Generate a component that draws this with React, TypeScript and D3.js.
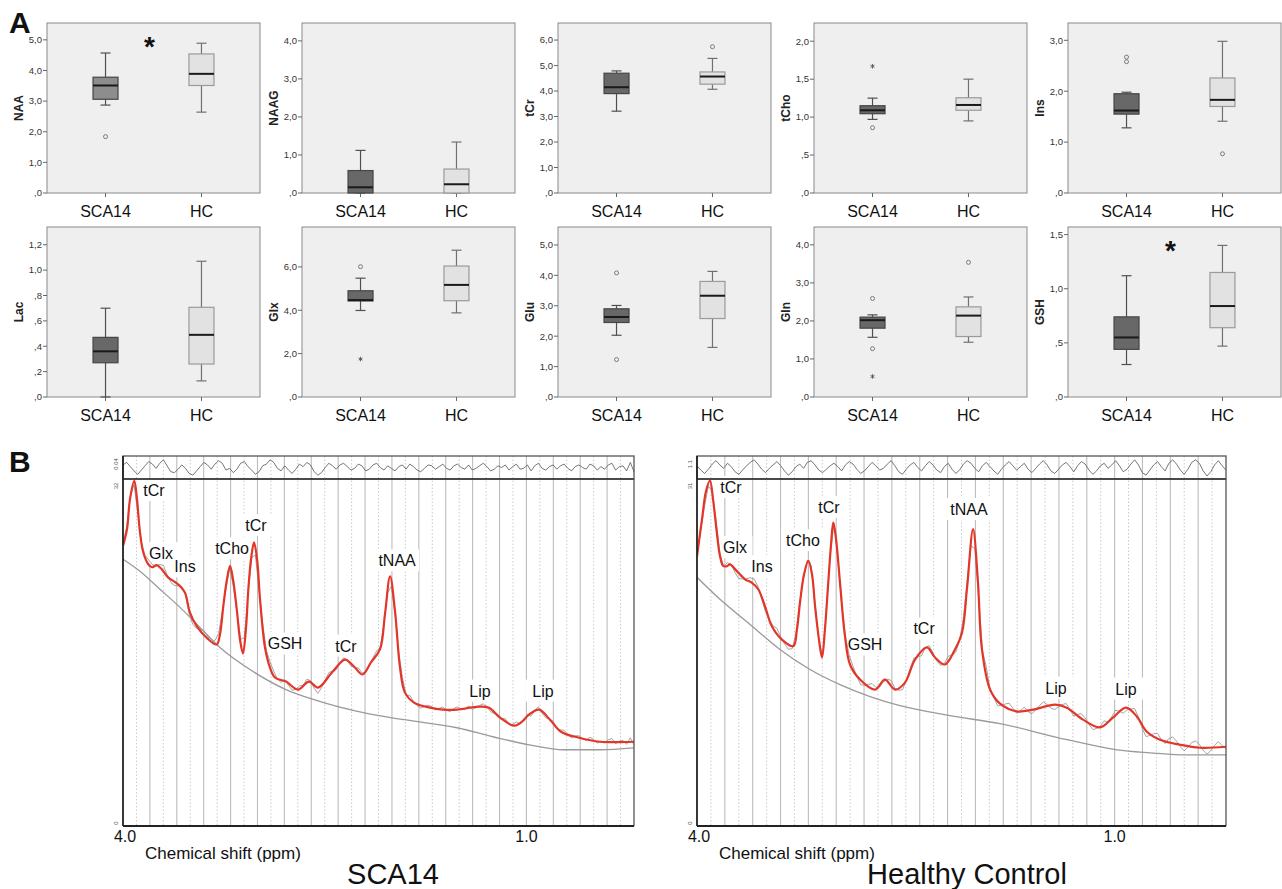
import React from 'react';
import * as d3 from 'd3';

// ---------------- Panel A data ----------------
const groups = ['SCA14', 'HC'];

// Box statistics: [lower whisker, Q1, median, Q3, upper whisker]
const naaSCA14 = [2.87, 3.06, 3.51, 3.78, 4.57];
const naaHC = [2.64, 3.51, 3.89, 4.54, 4.89];
const naaOutSCA14 = [1.84];
const naagSCA14 = [0, 0, 0.15, 0.59, 1.12];
const naagHC = [0, 0, 0.23, 0.63, 1.34];
const tcrSCA14 = [3.21, 3.9, 4.15, 4.7, 4.79];
const tcrHC = [4.07, 4.27, 4.57, 4.75, 5.28];
const tcrOutHC = [5.74];
const tchoSCA14 = [0.97, 1.045, 1.09, 1.15, 1.25];
const tchoHC = [0.95, 1.09, 1.16, 1.255, 1.5];
const tchoOutSCA14 = [0.86];
const tchoExtSCA14 = [1.67];
const insSCA14 = [1.28, 1.55, 1.62, 1.95, 1.98];
const insHC = [1.41, 1.7, 1.83, 2.26, 2.98];
const insOutSCA14 = [2.58, 2.67];
const insOutHC = [0.77];
const lacSCA14 = [0, 0.27, 0.36, 0.47, 0.7];
const lacHC = [0.127, 0.26, 0.49, 0.707, 1.07];
const glxSCA14 = [3.99, 4.43, 4.47, 4.9, 5.48];
const glxHC = [3.88, 4.44, 5.17, 6.04, 6.77];
const glxOutSCA14 = [6.01];
const glxExtSCA14 = [1.75];
const gluSCA14 = [2.03, 2.45, 2.63, 2.9, 3.01];
const gluHC = [1.63, 2.58, 3.33, 3.8, 4.13];
const gluOutSCA14 = [4.08, 1.23];
const glnSCA14 = [1.57, 1.81, 2.02, 2.1, 2.16];
const glnHC = [1.44, 1.59, 2.14, 2.37, 2.63];
const glnOutSCA14 = [2.59, 1.27];
const glnExtSCA14 = [0.54];
const glnOutHC = [3.54];
const gshSCA14 = [0.3, 0.44, 0.55, 0.74, 1.12];
const gshHC = [0.47, 0.64, 0.84, 1.15, 1.4];

// y-axis ticks
const ticksNAA = [0, 1, 2, 3, 4, 5];
const ticksNAAG = [0, 1, 2, 3, 4];
const ticksTCr = [0, 1, 2, 3, 4, 5, 6];
const ticksTCho = [0, 0.5, 1, 1.5, 2];
const ticksIns = [0, 1, 2, 3];
const ticksLac = [0, 0.2, 0.4, 0.6, 0.8, 1.0, 1.2];
const ticksGlx = [0, 2, 4, 6];
const ticksGlu = [0, 1, 2, 3, 4, 5];
const ticksGln = [0, 1, 2, 3, 4];
const ticksGSH = [0, 0.5, 1, 1.5];

const boxPanels = [
  { name: 'NAA', max: 5.55, ticks: ticksNAA, stats: [naaSCA14, naaHC], out: [naaOutSCA14, []], ext: [[], []], sig: true, darkFill: '#8d8d8d' },
  { name: 'NAAG', max: 4.47, ticks: ticksNAAG, stats: [naagSCA14, naagHC], out: [[], []], ext: [[], []], sig: false },
  { name: 'tCr', max: 6.67, ticks: ticksTCr, stats: [tcrSCA14, tcrHC], out: [[], tcrOutHC], ext: [[], []], sig: false },
  { name: 'tCho', max: 2.24, ticks: ticksTCho, stats: [tchoSCA14, tchoHC], out: [tchoOutSCA14, []], ext: [tchoExtSCA14, []], sig: false },
  { name: 'Ins', max: 3.34, ticks: ticksIns, stats: [insSCA14, insHC], out: [insOutSCA14, insOutHC], ext: [[], []], sig: false },
  { name: 'Lac', max: 1.34, ticks: ticksLac, stats: [lacSCA14, lacHC], out: [[], []], ext: [[], []], sig: false },
  { name: 'Glx', max: 7.84, ticks: ticksGlx, stats: [glxSCA14, glxHC], out: [glxOutSCA14, []], ext: [glxExtSCA14, []], sig: false },
  { name: 'Glu', max: 5.59, ticks: ticksGlu, stats: [gluSCA14, gluHC], out: [gluOutSCA14, []], ext: [[], []], sig: false },
  { name: 'Gln', max: 4.47, ticks: ticksGln, stats: [glnSCA14, glnHC], out: [glnOutSCA14, glnOutHC], ext: [glnExtSCA14, []], sig: false },
  { name: 'GSH', max: 1.57, ticks: ticksGSH, stats: [gshSCA14, gshHC], out: [[], []], ext: [[], []], sig: true },
];

// ---------------- Panel B data (ppm, intensity) ----------------
const sca14Fit: [number, number][] = [
  [4.0, 25.83], [3.97, 27.38], [3.948, 30.15], [3.916, 31.84], [3.896, 30.15], [3.874, 27.1],
  [3.849, 25.22], [3.812, 24.14], [3.784, 23.86], [3.749, 24.05], [3.712, 23.68], [3.663, 22.91],
  [3.613, 22.5], [3.576, 22.13], [3.539, 21.52], [3.502, 19.67], [3.452, 18.43], [3.378, 17.36],
  [3.303, 16.74], [3.279, 17.66], [3.254, 20.28], [3.227, 22.75], [3.204, 23.98], [3.182, 22.75],
  [3.154, 19.98], [3.13, 17.2], [3.108, 15.91], [3.085, 18.31], [3.068, 21.83], [3.048, 24.6],
  [3.026, 26.15], [3.003, 24.6], [2.981, 20.9], [2.944, 16.46], [2.907, 14.61], [2.87, 13.69],
  [2.788, 13.32], [2.699, 12.58], [2.617, 13.32], [2.55, 12.76], [2.446, 14.15], [2.349, 15.35],
  [2.282, 14.71], [2.219, 13.97], [2.156, 15.08], [2.089, 16.28], [2.052, 19.51], [2.014, 23.03],
  [1.977, 19.79], [1.94, 14.61], [1.903, 12.3], [1.836, 11.38], [1.717, 10.91], [1.62, 10.73],
  [1.516, 10.73], [1.42, 10.91], [1.353, 11.01], [1.278, 10.91], [1.196, 9.99], [1.092, 9.25],
  [1.033, 9.62], [0.981, 10.27], [0.906, 10.73], [0.825, 9.8], [0.743, 8.69], [0.609, 8.14],
  [0.453, 7.77], [0.2, 7.77],
];
const sca14Base: [number, number][] = [
  [4.0, 24.6], [3.874, 23.49], [3.725, 21.83], [3.576, 20.16], [3.427, 18.31], [3.279, 16.46],
  [3.056, 14.43], [2.788, 12.58], [2.58, 11.65], [2.178, 10.36], [1.91, 9.8], [1.516, 9.06],
  [1.248, 8.23], [0.981, 7.49], [0.721, 7.03], [0.453, 7.03], [0.2, 7.21],
];
const sca14Resid = [
  0.3, 0.6, 0.1, -0.4, -0.8, -0.3, 0.2, 0.7, 0.4, -0.1, 0.5, 0.9, 0.2, -0.5, -0.6, -0.2, 0.3, -0.1, -0.7, -0.9, -0.4, 0.1, 0.6, 0.3, -0.2, 0.4, 0.8, 0.5, -0.3, -0.1,
  -0.6, -0.2, 0.5, 0.7, 0.1, -0.3, -0.8, -0.5, 0.2, 0.4, 0.9, 0.6, -0.1, -0.4, 0.2, -0.3, -0.7, -0.2, 0.4, 0.1, 0.6, 0.3, -0.5, -0.9, -0.6, 0.0, 0.5, 0.2, -0.2, 0.3,
  0.5, 0.1, -0.3, -0.1, 0.4, 0.2, -0.4, -0.2, 0.3, 0.5, 0.0, -0.3, 0.2, -0.1, -0.4, 0.1, 0.3, -0.2, 0.4, 0.1, -0.3, -0.5, -0.1, 0.3, 0.2, -0.2, 0.1, 0.4, -0.1, -0.3,
  0.2, 0.4, 0.0, -0.2, 0.3, -0.3, -0.1, 0.2, 0.5, 0.1, -0.4, -0.2, 0.2, 0.0, 0.3, -0.3, 0.1, 0.4, -0.2, -0.1, 0.3, -0.4, 0.2, 0.5, -0.1, -0.3, 0.1, 0.3, -0.2, 0.2,
  0.4, -0.1, -0.4, 0.1, 0.3, 0.0, -0.2, 0.4, 0.2, -0.3, 0.1, -0.2, 0.3, 0.5, -0.3, 0.1, 0.2, -0.4, 0.6, -0.5,
];
const sca14Labels = [
  { text: 'tCr', ppm: 3.77, val: 30.43 },
  { text: 'Glx', ppm: 3.717, val: 24.6 },
  { text: 'Ins', ppm: 3.539, val: 23.4 },
  { text: 'tCho', ppm: 3.189, val: 25.06 },
  { text: 'tCr', ppm: 3.011, val: 27.19 },
  { text: 'GSH', ppm: 2.795, val: 16.28 },
  { text: 'tCr', ppm: 2.342, val: 16.09 },
  { text: 'tNAA', ppm: 1.962, val: 23.95 },
  { text: 'Lip', ppm: 1.345, val: 11.93 },
  { text: 'Lip', ppm: 0.877, val: 11.93 },
];

const hcFit: [number, number][] = [
  [4.0, 24.1], [3.964, 27.42], [3.935, 29.93], [3.907, 30.85], [3.885, 29.21], [3.858, 26.25],
  [3.835, 24.13], [3.811, 23.23], [3.785, 23.21], [3.763, 23.38], [3.715, 22.79], [3.655, 22.04],
  [3.607, 21.75], [3.56, 21.15], [3.512, 19.65], [3.463, 17.86], [3.392, 16.67], [3.308, 16.07],
  [3.282, 17.56], [3.26, 19.98], [3.231, 22.49], [3.2, 23.68], [3.174, 22.49], [3.152, 19.65],
  [3.124, 16.67], [3.102, 15.05], [3.081, 17.56], [3.057, 21.77], [3.037, 25.18], [3.021, 27.12],
  [3.001, 25.63], [2.973, 21.77], [2.937, 16.96], [2.901, 14.43], [2.829, 13.08], [2.721, 12.19],
  [2.65, 13.08], [2.578, 12.19], [2.506, 12.81], [2.434, 14.87], [2.348, 15.95], [2.29, 15.05],
  [2.219, 14.43], [2.147, 15.77], [2.096, 17.29], [2.061, 21.15], [2.017, 26.52], [1.983, 22.04],
  [1.953, 15.77], [1.895, 12.19], [1.823, 10.93], [1.703, 10.24], [1.586, 10.39], [1.428, 10.84],
  [1.344, 10.57], [1.227, 9.5], [1.105, 8.81], [1.012, 9.68], [0.918, 10.57], [0.841, 9.79],
  [0.77, 8.45], [0.674, 7.71], [0.53, 7.26], [0.387, 6.99], [0.2, 7.08],
];
const hcBase: [number, number][] = [
  [4.0, 22.22], [3.835, 20.25], [3.619, 18.01], [3.404, 15.77], [3.188, 13.98], [2.973, 12.63],
  [2.757, 11.56], [2.542, 10.75], [2.183, 9.86], [1.823, 9.14], [1.342, 7.71], [0.983, 6.81],
  [0.746, 6.54], [0.53, 6.36], [0.2, 6.36],
];
const hcResid = [
  0.2, -0.3, -0.7, -0.2, 0.4, 0.8, 0.3, -0.1, 0.5, 0.1, -0.5, -0.8, -0.3, 0.2, 0.6, 0.9, 0.4, -0.2, -0.6, -0.1, 0.3, 0.7, 0.2, -0.4, -0.9, -0.5, 0.1, 0.4, -0.1, 0.6,
  0.8, 0.3, -0.3, -0.6, -0.2, 0.2, 0.5, 0.1, -0.4, 0.3, 0.7, 0.4, -0.2, -0.7, -0.4, 0.1, 0.6, 0.2, -0.3, -0.1, 0.4, 0.8, 0.2, -0.5, -0.8, -0.2, 0.3, 0.6, 0.0, -0.4,
  0.2, 0.7, 0.3, -0.3, -0.6, 0.1, 0.5, -0.2, -0.7, -0.3, 0.4, 0.8, 0.5, -0.1, -0.5, 0.2, 0.6, 0.1, -0.4, -0.8, -0.2, 0.3, 0.7, 0.2, -0.3, 0.1, 0.5, -0.2, -0.6, -0.1,
  0.4, 0.8, 0.3, -0.4, -0.7, -0.2, 0.3, 0.6, 0.1, -0.5, 0.2, 0.7, 0.4, -0.3, -0.8, -0.4, 0.2, 0.5, -0.1, 0.3, 0.8, 0.2, -0.5, -0.2, 0.4, 0.9, 0.3, -0.6, -0.9, -0.3,
  0.3, 0.7, 0.1, -0.4, 0.5, 0.9, 0.4, -0.3, -0.8, -0.2, 0.6, 0.9, 0.5, -0.4, -1.0, -0.5, 0.3, 0.8, 0.2, -0.3,
];
const hcLabels = [
  { text: 'tCr', ppm: 3.756, val: 29.75 },
  { text: 'Glx', ppm: 3.727, val: 24.37 },
  { text: 'Ins', ppm: 3.533, val: 22.67 },
  { text: 'tCho', ppm: 3.239, val: 25.0 },
  { text: 'tCr', ppm: 3.052, val: 27.95 },
  { text: 'GSH', ppm: 2.793, val: 15.68 },
  { text: 'tCr', ppm: 2.369, val: 17.11 },
  { text: 'tNAA', ppm: 2.046, val: 27.78 },
  { text: 'Lip', ppm: 1.421, val: 11.83 },
  { text: 'Lip', ppm: 0.918, val: 11.74 },
];

const FONT = 'Liberation Sans, Arial, Helvetica, sans-serif';

const fmtTick = (v: number) => {
  const s = d3.format('.1f')(v).replace('.', ',');
  return s.startsWith('0,') ? s.slice(1) : s;
};

// ---------------- Box plot panel ----------------
function BoxPanel({ p, left, top }: any) {
  const W = 213, H = 170;
  const y = d3.scaleLinear().domain([0, p.max]).range([top + H, top]);
  const x = d3.scalePoint().domain(groups).range([left, left + W]).padding(0.61);
  const bw = 25, cap = 5;
  return (
    <g fontFamily={FONT}>
      <rect x={left} y={top} width={W} height={H} fill="#efefef" stroke="#8a8a8a" strokeWidth={1} />
      {p.ticks.map((t: number) => (
        <g key={t}>
          <line x1={left - 4} x2={left} y1={y(t)} y2={y(t)} stroke="#666" />
          <text x={left - 5} y={y(t)} dy="0.35em" textAnchor="end" fontSize={9.5} fill="#333">{fmtTick(t)}</text>
        </g>
      ))}
      <text transform={`translate(${left - 24},${top + H / 2}) rotate(-90)`} textAnchor="middle" fontSize={12} fontWeight="bold" fill="#222">{p.name}</text>
      {groups.map((g, gi) => {
        const cx = x(g) as number;
        const [lo, q1, md, q3, hi] = p.stats[gi];
        const dark = gi === 0;
        const fill = dark ? (p.darkFill || '#686868') : '#e2e2e2';
        const stroke = dark ? '#454545' : '#9a9a9a';
        const wc = dark ? '#505050' : '#707070';
        return (
          <g key={g}>
            <line x1={cx} x2={cx} y1={top + H} y2={top + H + 4} stroke="#666" />
            <text x={cx} y={top + H + 24} textAnchor="middle" fontSize={16} fill="#111">{g}</text>
            <line x1={cx} x2={cx} y1={y(q3)} y2={y(hi)} stroke={wc} strokeWidth={1.2} />
            <line x1={cx} x2={cx} y1={y(q1)} y2={y(lo)} stroke={wc} strokeWidth={1.2} />
            <line x1={cx - cap} x2={cx + cap} y1={y(hi)} y2={y(hi)} stroke={wc} strokeWidth={1.2} />
            <line x1={cx - cap} x2={cx + cap} y1={y(lo)} y2={y(lo)} stroke={wc} strokeWidth={1.2} />
            <rect x={cx - bw / 2} y={y(q3)} width={bw} height={Math.max(0.5, y(q1) - y(q3))} fill={fill} stroke={stroke} strokeWidth={1.2} />
            <line x1={cx - bw / 2} x2={cx + bw / 2} y1={y(md)} y2={y(md)} stroke="#1a1a1a" strokeWidth={2} />
            {p.out[gi].map((v: number, i: number) => (
              <circle key={'o' + i} cx={cx} cy={y(v)} r={2} fill="none" stroke="#7a7a7a" strokeWidth={1} />
            ))}
            {p.ext[gi].map((v: number, i: number) => (
              <path key={'e' + i} transform={`translate(${cx},${y(v)})`} d={d3.symbol(d3.symbolAsterisk, 14)() as string} stroke="#555" strokeWidth={0.9} fill="none" />
            ))}
          </g>
        );
      })}
      {p.sig && (
        <text x={((x('SCA14') as number) + (x('HC') as number)) / 2 - 4} y={top + 33} textAnchor="middle" fontSize={28} fontWeight="bold" fill="#111">*</text>
      )}
    </g>
  );
}

// ---------------- Spectrum panel ----------------
function interpFit(pts: [number, number][], p: number) {
  for (let i = 0; i < pts.length - 1; i++) {
    const [a, ya] = pts[i];
    const [b, yb] = pts[i + 1];
    if (p <= a && p >= b) {
      const t = (a - p) / (a - b);
      return ya + (yb - ya) * t;
    }
  }
  return pts[pts.length - 1][1];
}

function Spectrum({ id, x0, x1, yMax, fit, base, resid, labels, residLabel, title }: any) {
  const residTop = 456, mainTop = 479, bottom = 826;
  const x = d3.scaleLinear().domain([4.0, 0.2]).range([x0, x1]);
  const y = d3.scaleLinear().domain([0, yMax]).range([bottom, mainTop]);
  const yr = d3.scaleLinear().domain([-1, 1]).range([mainTop - 3, residTop + 3]);
  const fitLine = d3.line<[number, number]>().x(d => x(d[0])).y(d => y(d[1])).curve(d3.curveCatmullRom.alpha(0.5));
  const smooth = d3.line<[number, number]>().x(d => x(d[0])).y(d => y(d[1])).curve(d3.curveMonotoneX);
  const rawLine = d3.line<[number, number]>().x(d => x(d[0])).y(d => y(d[1]));
  const n = resid.length;
  const residPts: [number, number][] = resid.map((r: number, i: number) => [4.0 - (i * 3.8) / (n - 1), r]);
  const rawPts: [number, number][] = residPts.map(([pp, r]) => [pp, interpFit(fit, pp) + r * 0.6]);
  const residPath = d3.line<[number, number]>().x(d => x(d[0])).y(d => yr(d[1]))(residPts) as string;
  const grid = d3.range(1, 38).map(k => ({ ppm: 4.0 - k * 0.1, solid: k % 2 === 0 }));
  return (
    <g fontFamily={FONT}>
      <defs>
        <clipPath id={id + 'clip'}>
          <rect x={x0} y={mainTop} width={x1 - x0} height={bottom - mainTop} />
        </clipPath>
      </defs>
      <rect x={x0} y={residTop} width={x1 - x0} height={bottom - residTop} fill="#fff" />
      {grid.map((g, i) => (
        <line key={i} x1={x(g.ppm)} x2={x(g.ppm)} y1={residTop} y2={bottom}
          stroke={g.solid ? '#bcbcbc' : '#c4c4c4'} strokeWidth={g.solid ? 1.1 : 0.9}
          strokeDasharray={g.solid ? undefined : '1.5,2'} />
      ))}
      {labels.map((l: any, i: number) => {
        const w = l.text.length * 9 + 8;
        return <rect key={i} x={x(l.ppm) - w / 2} y={y(l.val) - 17} width={w} height={22} fill="#fff" />;
      })}
      {labels.map((l: any, i: number) => (
        <text key={i} x={x(l.ppm)} y={y(l.val)} textAnchor="middle" fontSize={16} fill="#111">{l.text}</text>
      ))}
      <g clipPath={`url(#${id}clip)`}>
        <path d={smooth(base) as string} fill="none" stroke="#9a9a9a" strokeWidth={1.3} />
        <path d={rawLine(rawPts) as string} fill="none" stroke="#9a9a9a" strokeWidth={0.9} />
        <path d={fitLine(fit) as string} fill="none" stroke="#e3362a" strokeWidth={2.2} />
      </g>
      <path d={residPath} fill="none" stroke="#666" strokeWidth={0.9} />
      <rect x={x0} y={residTop} width={x1 - x0} height={mainTop - residTop} fill="none" stroke="#555" strokeWidth={1.3} />
      <line x1={x0} x2={x1} y1={mainTop} y2={mainTop} stroke="#333" strokeWidth={1.6} />
      <line x1={x1} x2={x1} y1={mainTop} y2={bottom} stroke="#555" strokeWidth={1.3} />
      <line x1={x0} x2={x0} y1={residTop} y2={bottom} stroke="#222" strokeWidth={1.8} />
      <line x1={x0} x2={x1} y1={bottom} y2={bottom} stroke="#222" strokeWidth={1.8} />
      <text transform={`translate(${x0 - 5},${residTop + 8}) rotate(-90)`} textAnchor="middle" fontSize={6} fill="#555">{residLabel}</text>
      <text transform={`translate(${x0 - 5},${mainTop + 7}) rotate(-90)`} textAnchor="middle" fontSize={6} fill="#555">{yMax}</text>
      <text transform={`translate(${x0 - 5},${bottom - 3}) rotate(-90)`} textAnchor="middle" fontSize={6} fill="#555">0</text>
      <text x={x0 + 2} y={842} textAnchor="middle" fontSize={16} fill="#111">4.0</text>
      <text x={x(1.0)} y={842} textAnchor="middle" fontSize={16} fill="#111">1.0</text>
      <text x={x0 + 22} y={859} fontSize={17} fill="#111">Chemical shift (ppm)</text>
      <text x={x0 + 270} y={884} textAnchor="middle" fontSize={29} fill="#111">{title}</text>
    </g>
  );
}

export default function App() {
  const lefts = [47, 302, 558, 814, 1068];
  const tops = [23, 227];
  return (
    <svg width={1282} height={889} viewBox="0 0 1282 889" style={{ position: 'absolute', left: 0, top: 0, background: '#fff' }}>
      <rect x={0} y={0} width={1282} height={889} fill="#fff" />
      <text x={9} y={33} fontFamily={FONT} fontSize={30} fontWeight="bold" fill="#111">A</text>
      <text x={9} y={472} fontFamily={FONT} fontSize={30} fontWeight="bold" fill="#111">B</text>
      {boxPanels.map((p, i) => (
        <BoxPanel key={p.name} p={p} left={lefts[i % 5]} top={tops[Math.floor(i / 5)]} />
      ))}
      <Spectrum id="sca" x0={123} x1={634} yMax={32} fit={sca14Fit} base={sca14Base} resid={sca14Resid} labels={sca14Labels} residLabel="0.04" title="SCA14" />
      <Spectrum id="hc" x0={697} x1={1226} yMax={31} fit={hcFit} base={hcBase} resid={hcResid} labels={hcLabels} residLabel="1.1" title="Healthy Control" />
    </svg>
  );
}
